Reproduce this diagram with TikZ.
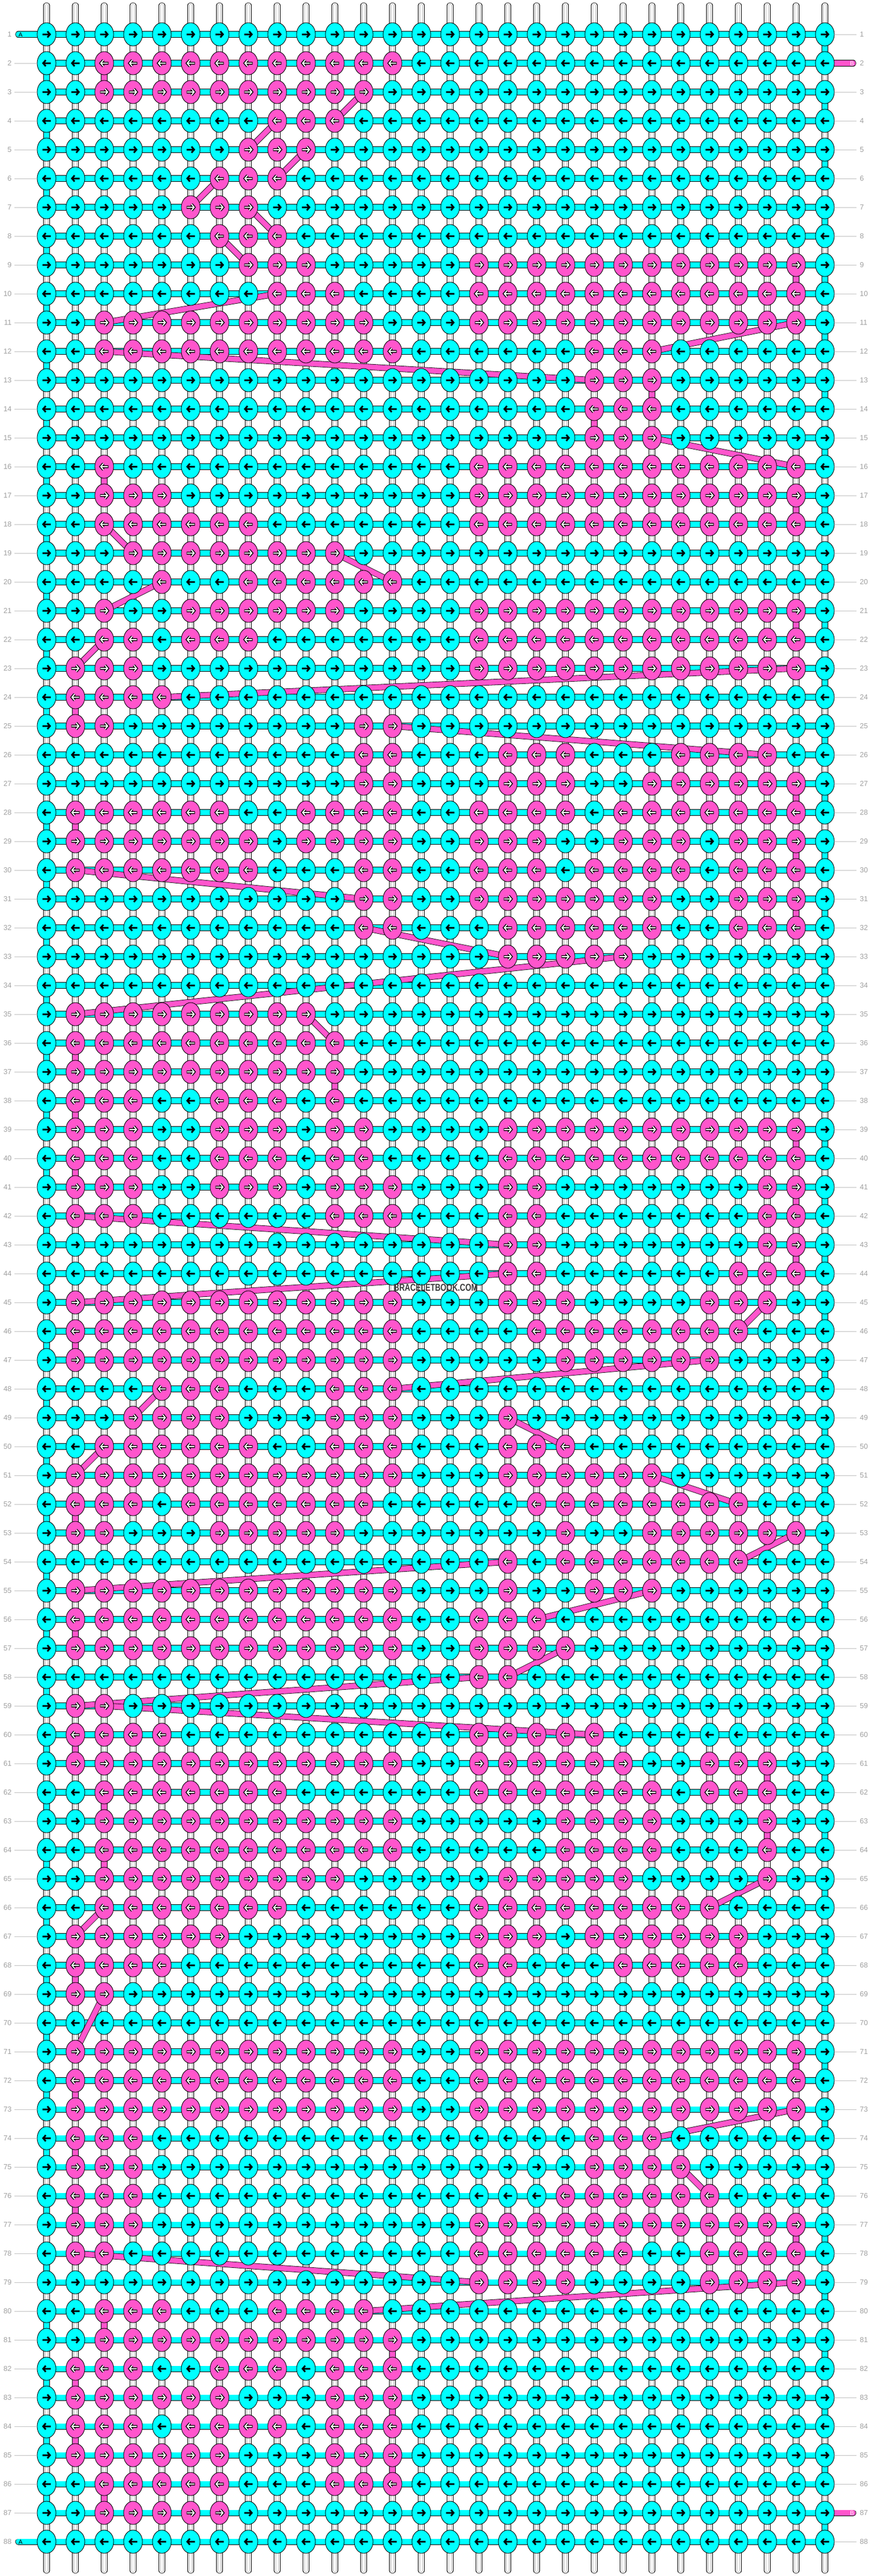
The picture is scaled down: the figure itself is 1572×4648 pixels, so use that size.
\documentclass[tikz,border=0pt]{standalone}
\usepackage{fontspec}
\setmainfont{Liberation Sans}

\definecolor{cyanA}{HTML}{00FFFF}
\definecolor{pinkB}{HTML}{FF55CC}
\definecolor{numgray}{HTML}{A0A0A0}
\definecolor{linegray}{HTML}{C0C0C0}
\definecolor{warpgray}{HTML}{B8B8B8}
\definecolor{markgray}{HTML}{3C3C3C}

\pgfdeclarelayer{warp}
\pgfdeclarelayer{weft}
\pgfsetlayers{warp,weft,main}

% one knot, drawn once and reused: box, fill, direction, arrow
\newsavebox\knotAR \newsavebox\knotAL \newsavebox\knotBR \newsavebox\knotBL
\newcommand\arrowpath[1]{%
  \pgfpathmoveto{\pgfpoint{#1}{0pt}}\pgfpathlineto{\pgfpoint{5pt}{0pt}}%
  \pgfpathmoveto{\pgfpoint{1.5pt}{5.5pt}}\pgfpathlineto{\pgfpoint{6.2pt}{0pt}}%
  \pgfpathlineto{\pgfpoint{1.5pt}{-5.5pt}}}
\newcommand\makeknot[4]{%
  \sbox#1{\begin{pgfpicture}
    \pgfpathrectangle{\pgfpoint{-17.5pt}{-21.5pt}}{\pgfpoint{35pt}{43pt}}
    \pgfusepath{use as bounding box}
    \pgfpathellipse{\pgfpointorigin}{\pgfpoint{17pt}{0pt}}{\pgfpoint{0pt}{21pt}}
    \pgfsetfillcolor{#2}\pgfsetlinewidth{0.9pt}\pgfusepath{fill,stroke}
    \pgftransformxscale{#3}
    \ifx#4w
      \arrowpath{-7.5pt}\pgfsetlinewidth{5pt}\pgfusepath{stroke}
      \arrowpath{-6.6pt}\pgfsetstrokecolor{white}\pgfsetlinewidth{2pt}\pgfusepath{stroke}
    \else
      \arrowpath{-7.5pt}\pgfsetlinewidth{3pt}\pgfusepath{stroke}
    \fi
  \end{pgfpicture}}}
\makeknot\knotAR{cyanA}{1}{k}
\makeknot\knotAL{cyanA}{-1}{k}
\makeknot\knotBR{pinkB}{1}{w}
\makeknot\knotBL{pinkB}{-1}{w}

% pink knots: row/first/last
\newcommand\pinkknots{2/3/13, 3/3/12, 4/9/11, 5/8/10, 6/7/9, 7/6/8, 8/7/9,
  9/8/10, 9/16/27, 10/9/11, 10/16/27, 11/3/12, 11/16/27, 12/3/13, 12/20/22,
  13/20/22, 14/20/22, 15/20/22, 16/3/3, 16/16/27, 17/3/5, 17/16/27,
  18/3/8, 18/16/27, 19/4/11, 20/5/5, 20/8/13, 21/3/3, 21/6/11, 21/16/27,
  22/3/4, 22/6/8, 22/16/27, 23/2/4, 23/16/27, 24/2/5, 25/2/3, 25/12/13,
  26/12/13, 26/17/19, 26/23/26, 27/12/13, 27/17/19, 27/22/27,
  28/2/7, 28/10/13, 28/16/19, 28/21/27,
  29/2/8, 29/10/13, 29/16/18, 29/21/23, 29/25/27,
  30/2/8, 30/12/13, 30/16/18, 30/20/23, 30/25/27,
  31/12/13, 31/16/22, 31/25/27, 32/12/13, 32/17/22, 32/25/27, 33/17/21,
  35/2/10, 36/2/11, 37/2/11, 38/2/4, 38/7/9, 38/11/11,
  39/2/4, 39/7/9, 39/11/12, 39/17/27, 40/2/4, 40/7/9, 40/11/12, 40/17/27,
  41/2/4, 41/7/9, 41/11/13, 41/17/18, 41/26/27,
  42/2/4, 42/11/13, 42/17/18, 42/26/27, 43/17/18, 43/26/27, 44/17/18, 44/25/27,
  45/2/13, 45/17/19, 45/24/26, 46/2/13, 46/18/25, 47/2/13, 47/19/24,
  48/5/7, 48/11/13, 49/4/7, 49/11/13, 49/17/17, 50/3/8, 50/11/13, 50/17/19,
  51/2/13, 51/17/22, 52/2/4, 52/6/12, 52/18/25,
  53/2/3, 53/7/11, 53/19/19, 53/22/27, 54/17/17, 54/19/25,
  55/2/13, 55/17/17, 55/20/22, 56/2/13, 56/16/18,
  57/2/13, 57/16/19, 58/16/17, 59/2/3, 60/2/5, 60/16/20,
  61/2/13, 61/16/21, 61/24/26, 62/3/9, 62/16/22, 62/24/26,
  63/3/13, 63/19/22, 63/26/26, 64/3/13, 64/19/22, 64/26/26,
  65/3/11, 65/17/21, 65/26/26, 66/3/9, 66/16/24,
  67/2/7, 67/16/18, 67/20/25, 68/2/5, 68/16/17, 68/21/25, 69/2/3,
  71/2/13, 71/16/27, 72/2/13, 72/16/27, 73/2/13, 73/16/27,
  74/2/4, 74/20/22, 75/2/4, 75/20/23, 76/2/4, 76/19/24, 77/2/4, 77/16/27,
  78/2/3, 78/16/21, 78/24/27, 79/16/19, 79/24/27,
  80/3/5, 80/9/12, 81/3/13, 82/2/4, 82/7/9, 82/11/13, 83/2/7, 83/11/13,
  84/2/4, 84/6/9, 84/11/13, 85/2/7, 85/11/13, 86/3/7, 86/11/13, 87/3/7}

\begin{document}
\begin{tikzpicture}[x=1pt, y=-1pt,
  knot/.style={inner sep=0pt, outer sep=0pt},
  weftA/.style={line width=0.8pt, double=cyanA, double distance=9.5pt},
  weftB/.style={line width=0.8pt, double=pinkB, double distance=9.5pt},
  warpline/.style={line width=0.8pt, double=white, double distance=9.5pt, line cap=round},
  warpshade/.style={line width=0.7pt, warpgray, double=white, double distance=4.5pt, line cap=round},
  rownum/.style={text=numgray, font=\fontsize{13}{13}\selectfont, inner sep=0pt},
  rowline/.style={linegray, line width=0.9pt},
  tailtext/.style={font=\fontsize{11}{11}\selectfont, inner sep=0pt}
]
\useasboundingbox (0,0) rectangle (1572,4648);

% which knots are pink, first and last pink column of each row
\foreach \r/\a/\b in \pinkknots {
  \ifcsname lo\r\endcsname\else\expandafter\xdef\csname lo\r\endcsname{\a}\fi
  \expandafter\xdef\csname hi\r\endcsname{\b}
  \foreach \c in {\a,...,\b}{\expandafter\xdef\csname pk\r-\c\endcsname{1}}
}

% Knots
\foreach \r in {1,...,88}{
  \ifodd\r\relax \def\kdir{R}\else\def\kdir{L}\fi
  \foreach \c in {1,...,28}{
    \ifcsname pk\r-\c\endcsname \def\kcol{B}\else\def\kcol{A}\fi
    \node[knot] (k-\r-\c) at ({84+52*(\c-1)}, {62+52*(\r-1)})
      {\usebox{\csname knot\kcol\kdir\endcsname}};
  }
}

% Warp strings
\begin{pgfonlayer}{warp}
  \fill[white] (0,0) rectangle (1572,4648);
  \foreach \c in {1,...,28}{
    \coordinate (top-\c) at ({84+52*(\c-1)}, 10);
    \coordinate (bot-\c) at ({84+52*(\c-1)}, 4638);
    \draw[warpline] (top-\c) -- (bot-\c);
    \draw[warpshade] (top-\c) -- (bot-\c);
  }
\end{pgfonlayer}

% String A: rows and turns
\begin{pgfonlayer}{weft}
  \foreach \r in {1,...,88}{
    \draw[weftA] (k-\r-1.center) -- (k-\r-28.center);
  }
  \foreach \r in {2,4,...,86}{
    \pgfmathtruncatemacro\nr{\r+1}
    \draw[weftA] (k-\r-1.center) -- (k-\nr-1.center);
  }
  \foreach \r in {1,3,...,87}{
    \pgfmathtruncatemacro\nr{\r+1}
    \draw[weftA] (k-\r-28.center) -- (k-\nr-28.center);
  }
  \coordinate (tailA-1) at (33,62);
  \coordinate (tailA-88) at (33,4586);
  \coordinate (tailB-2) at (1539,114);
  \coordinate (tailB-87) at (1539,4534);
  \draw[weftA, line cap=round] (tailA-1) -- (k-1-1.center);
  \draw[weftA, line cap=round] (tailA-88) -- (k-88-1.center);
  \draw[weftB, line cap=round] (tailB-2) -- (k-2-28.center);
  \draw[weftB, line cap=round] (tailB-87) -- (k-87-28.center);
\end{pgfonlayer}
\node[tailtext] (labA-1) at (37,63) {A};
\node[tailtext] (labA-88) at (37,4587) {A};
\node[tailtext, text=white] (labB-2) at (1537,115) {B};
\node[tailtext, text=white] (labB-87) at (1537,4535) {B};

% String B: from the end of one row to the start of the next
\xdef\prevrow{0}
\foreach \r in {1,...,88}{
  \ifcsname lo\r\endcsname
    \ifnum\prevrow>0
      \ifodd\prevrow\relax \xdef\exitcol{\csname hi\prevrow\endcsname}\else\xdef\exitcol{\csname lo\prevrow\endcsname}\fi
      \ifodd\r\relax \xdef\entrycol{\csname lo\r\endcsname}\else\xdef\entrycol{\csname hi\r\endcsname}\fi
      \begin{pgfonlayer}{weft}
        \draw[weftB] (k-\prevrow-\exitcol.center) -- (k-\r-\entrycol.center);
      \end{pgfonlayer}
    \fi
    \xdef\prevrow{\r}
  \fi
}

% Row numbers
\foreach \r in {1,...,88}{
  \node[rownum, anchor=east] (nl-\r) at (21, {62+52*(\r-1)}) {\r};
  \node[rownum, anchor=west] (nr-\r) at (1551, {62+52*(\r-1)}) {\r};
  \ifnum\r>1 \ifnum\r<88
    \draw[rowline, shorten <=5pt] (nl-\r) -- (k-\r-1);
  \fi\fi
  \ifnum\r=2 \else\ifnum\r=87 \else
    \draw[rowline, shorten >=6pt] (k-\r-28) -- (nr-\r);
  \fi\fi
}

% Watermark
\node[text=markgray, font=\bfseries\fontsize{18}{18}\selectfont, xscale=0.76, inner sep=0pt]
  (mark) at (786,2323) {BRACELETBOOK.COM};

\end{tikzpicture}
\end{document}
